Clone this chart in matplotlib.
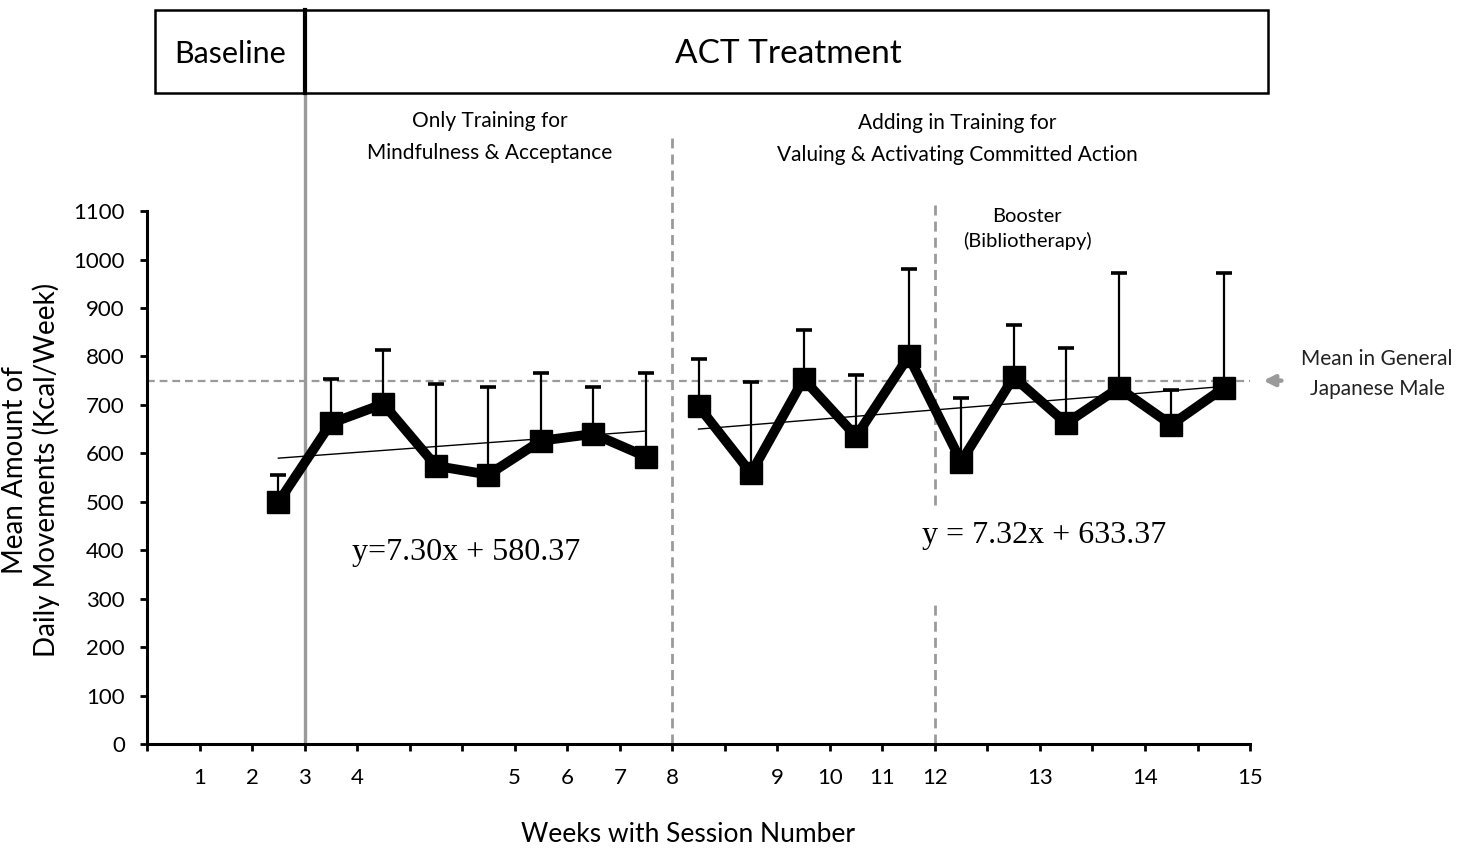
import numpy as np
import matplotlib
matplotlib.use("Agg")
import matplotlib.pyplot as plt
from matplotlib.patches import Rectangle
from matplotlib.transforms import blended_transform_factory

# Data (category slot index -> value)
week_labels = ["1", "2", "3", "4", "5", "6", "7", "8", "9", "10",
               "11", "12", "13", "14", "15"]
week_ticks = [1, 2, 3, 4, 7, 8, 9, 10, 12, 13, 14, 15, 17, 19, 21]

phase1_slots = [2, 3, 4, 5, 6, 7, 8, 9]
phase1_mean = [499, 662, 702, 574, 556, 626, 640, 593]
phase1_upper = [556, 753, 813, 743, 737, 766, 737, 765]

phase2_slots = [10, 11, 12, 13, 14, 15, 16, 17, 18, 19, 20]
phase2_mean = [697, 559, 753, 635, 800, 583, 757, 662, 735, 659, 735]
phase2_upper = [794, 748, 855, 762, 980, 715, 865, 818, 973, 730, 973]

trend1_slots = [2, 9]
trend1_vals = [590, 646]
trend2_slots = [10, 20]
trend2_vals = [650, 738]

general_mean = 750
phase_bounds = [3, 10, 15]

# Style constants
SANS = ["Lato", "DejaVu Sans"]
SERIF = ["Liberation Serif", "DejaVu Serif"]
GRAY = "#9a9a9a"
N_SLOTS = 21

plt.rcParams["font.family"] = SANS

fig = plt.figure(figsize=(14.66, 8.51), dpi=100)
ax = fig.add_axes([0.1003, 0.1257, 0.7524, 0.6263])

ax.set_xlim(0, N_SLOTS)
ax.set_ylim(0, 1100)

# Phase lines
ax.axvline(phase_bounds[0], ymin=0, ymax=1.2214, color=GRAY, lw=2.4,
           clip_on=False, zorder=1)
ax.axvline(phase_bounds[1], ymin=0, ymax=1.137, color=GRAY, lw=2.0,
           linestyle=(0, (3.6, 2.2)), clip_on=False, zorder=1)
ax.axvline(phase_bounds[2], ymin=0.4484, ymax=1.015, color=GRAY, lw=2.0,
           linestyle=(0, (3.6, 2.2)), clip_on=False, zorder=1)
ax.axvline(phase_bounds[2], ymin=0, ymax=0.2702, color=GRAY, lw=2.0,
           linestyle=(0, (3.6, 2.2)), clip_on=False, zorder=1)

# Reference mean line
ax.axhline(general_mean, color=GRAY, lw=1.6, linestyle=(0, (3.5, 2.2)), zorder=1)
ax.annotate("", xy=(21.2, general_mean), xytext=(21.65, general_mean),
            arrowprops=dict(arrowstyle="-|>", color=GRAY, lw=3.2,
                            mutation_scale=16),
            annotation_clip=False)
ax.text(23.42, general_mean + 14, "Mean in General\nJapanese Male",
        ha="center", va="center", fontsize=15, linespacing=1.65,
        color="#222222", clip_on=False)

# Series with error bars
for slots, mean, upper in [(phase1_slots, phase1_mean, phase1_upper),
                           (phase2_slots, phase2_mean, phase2_upper)]:
    x = np.array(slots) + 0.5
    m = np.array(mean)
    up = np.array(upper) - m
    ax.errorbar(x, m, yerr=[np.zeros_like(up), up], fmt="none",
                ecolor="black", elinewidth=1.6, capsize=6, capthick=2.6,
                zorder=2)
    ax.plot(x, m, color="black", lw=7, marker="s", markersize=15.5,
            solid_joinstyle="miter", zorder=4)

# Trend lines
for slots, vals in [(trend1_slots, trend1_vals), (trend2_slots, trend2_vals)]:
    ax.plot(np.array(slots) + 0.5, vals, color="black", lw=1.0, zorder=3)

ax.text(3.9, 395, "y=7.30x + 580.37", family=SERIF, fontsize=23,
        ha="left", va="center")
ax.text(14.75, 430, "y = 7.32x + 633.37", family=SERIF, fontsize=23,
        ha="left", va="center")

# Axes styling
for side in ["top", "right"]:
    ax.spines[side].set_visible(False)
for side in ["left", "bottom"]:
    ax.spines[side].set_linewidth(2.2)
    ax.spines[side].set_color("black")

ax.set_yticks(np.arange(0, 1101, 100))
ax.tick_params(axis="y", direction="out", length=5, width=2, pad=11,
               labelsize=16)
xticks = list(range(N_SLOTS + 1))
xlabels = ["" for _ in xticks]
for pos, lab in zip(week_ticks, week_labels):
    xlabels[pos] = lab
ax.set_xticks(xticks)
ax.set_xticklabels(xlabels)
ax.tick_params(axis="x", direction="out", length=5, width=2, pad=12,
               labelsize=16)

# Top phase boxes
trans = blended_transform_factory(ax.transData, fig.transFigure)
box_bottom = 1 - 93 / 851
box_h = 83 / 851
fig.add_artist(Rectangle((0.15, box_bottom), phase_bounds[0] - 0.15, box_h,
                         transform=trans, fill=False, ec="black", lw=1.8))
fig.add_artist(Rectangle((phase_bounds[0], box_bottom), 21.34 - phase_bounds[0],
                         box_h, transform=trans, fill=False, ec="black", lw=1.8))
fig.add_artist(plt.Line2D([phase_bounds[0], phase_bounds[0]],
                          [box_bottom, box_bottom + box_h], transform=trans,
                          color="black", lw=3))
fig.text(230 / 1466, 1 - 54 / 851, "Baseline", ha="center", va="center",
         fontsize=22)
fig.text(788 / 1466, 1 - 54 / 851, "ACT Treatment", ha="center", va="center",
         fontsize=24)

# Phase descriptions
fig.text(490 / 1466, 1 - 137 / 851,
         "Only Training for\nMindfulness & Acceptance",
         ha="center", va="center", fontsize=15, linespacing=1.75)
fig.text(957 / 1466, 1 - 139 / 851,
         "Adding in Training for\nValuing & Activating Committed Action",
         ha="center", va="center", fontsize=15, linespacing=1.75)
fig.text(1027 / 1466, 1 - 229 / 851, "Booster\n(Bibliotherapy)",
         ha="center", va="center", fontsize=14.5, linespacing=1.5)

# Axis titles
fig.text(31 / 1466, 1 - 470 / 851,
         "Mean Amount of\nDaily Movements (Kcal/Week)",
         ha="center", va="center", rotation=90, fontsize=20, linespacing=1.15)
fig.text(688 / 1466, 1 - 835 / 851, "Weeks with Session Number",
         ha="center", va="center", fontsize=19)

fig.savefig("out.png", dpi=100)
